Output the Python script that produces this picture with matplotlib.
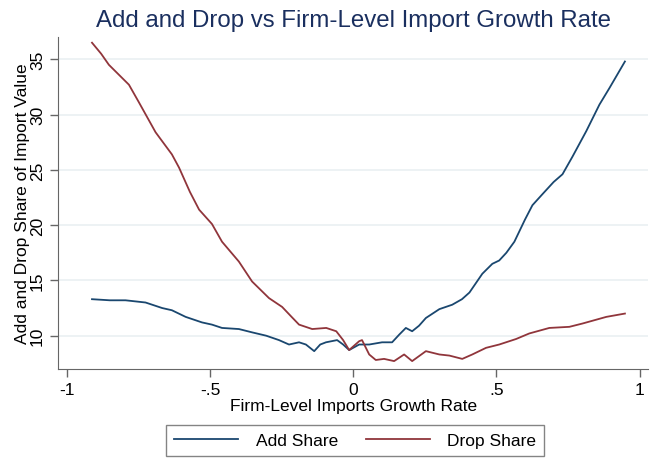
import matplotlib.pyplot as plt

plt.rcParams['font.family'] = ['Liberation Sans', 'DejaVu Sans']

# Add share (blue)
add_x = [-0.912, -0.850, -0.795, -0.725, -0.667, -0.633, -0.585, -0.528, -0.493, -0.458,
         -0.399, -0.353, -0.304, -0.259, -0.224, -0.189, -0.165, -0.136, -0.115, -0.095,
         -0.056, -0.035, -0.014, 0.021, 0.056, 0.101, 0.136, 0.161, 0.184, 0.206, 0.230, 0.254,
         0.301, 0.346, 0.380, 0.406, 0.451, 0.486, 0.510, 0.535, 0.563, 0.600, 0.626, 0.661,
         0.700, 0.731, 0.766, 0.814, 0.860, 0.895, 0.949]
add_y = [13.3, 13.2, 13.2, 13.0, 12.5, 12.3, 11.7, 11.2, 11.0, 10.7,
         10.6, 10.3, 10.0, 9.6, 9.2, 9.4, 9.2, 8.6, 9.2, 9.4,
         9.6, 9.2, 8.7, 9.2, 9.2, 9.4, 9.4, 10.1, 10.7, 10.4, 10.9, 11.6,
         12.4, 12.8, 13.3, 13.9, 15.6, 16.5, 16.8, 17.5, 18.5, 20.5, 21.8, 22.8,
         23.9, 24.6, 26.2, 28.5, 30.9, 32.4, 34.8]

# Drop share (red)
drop_x = [-0.912, -0.880, -0.853, -0.783, -0.748, -0.690, -0.633, -0.608, -0.570, -0.538, -0.493,
          -0.458, -0.399, -0.353, -0.294, -0.248, -0.215, -0.189, -0.143, -0.094, -0.059,
          -0.035, -0.014, 0.021, 0.031, 0.056, 0.079, 0.108, 0.143, 0.178, 0.206, 0.254,
          0.301, 0.336, 0.381, 0.416, 0.464, 0.510, 0.569, 0.615, 0.685, 0.755,
          0.801, 0.884, 0.949]
drop_y = [36.5, 35.5, 34.5, 32.7, 31.1, 28.4, 26.4, 25.2, 23.0, 21.4, 20.1,
          18.5, 16.7, 14.9, 13.4, 12.6, 11.7, 11.0, 10.6, 10.7, 10.4,
          9.6, 8.7, 9.5, 9.6, 8.3, 7.8, 7.9, 7.7, 8.3, 7.7, 8.6,
          8.3, 8.2, 7.9, 8.3, 8.9, 9.2, 9.7, 10.2, 10.7, 10.8,
          11.1, 11.7, 12.0]

x_ticks = [-1, -0.5, 0, 0.5, 1]
x_labels = ['-1', '-.5', '0', '.5', '1']
y_ticks = [10, 15, 20, 25, 30, 35]

fig = plt.figure(figsize=(6.54, 4.60), dpi=100)
ax = fig.add_axes([0.089, 0.196, 0.902, 0.721])

ax.plot(add_x, add_y, color='#1a476f', lw=1.3, label='Add Share')
ax.plot(drop_x, drop_y, color='#90353b', lw=1.3, label='Drop Share')

ax.set_xlim(-1.03, 1.03)
ax.set_ylim(7.0, 37.0)
ax.set_xticks(x_ticks)
ax.set_xticklabels(x_labels)
ax.set_yticks(y_ticks)
ax.set_yticklabels([str(v) for v in y_ticks], rotation=90, va='center')
ax.grid(axis='y', color='#eaf0f2', lw=1.2)
ax.set_axisbelow(True)

for s in ['top', 'right']:
    ax.spines[s].set_visible(False)
for s in ['left', 'bottom']:
    ax.spines[s].set_color('#666666')
ax.tick_params(colors='#666666', labelcolor='black', labelsize=12.5, length=6, width=1)

ax.set_xlabel('Firm-Level Imports Growth Rate', fontsize=12.5, labelpad=1)
ax.set_ylabel('Add and Drop Share of Import Value', fontsize=12.5, labelpad=0)
ax.set_title('Add and Drop vs Firm-Level Import Growth Rate', fontsize=17.3,
             color='#1a2f5f', pad=8)

leg = fig.legend(loc='center', bbox_to_anchor=(0.543, 0.041), ncol=2,
                 fontsize=12.5, frameon=True, fancybox=False, edgecolor='#666666',
                 handlelength=3.7, handletextpad=1.0, columnspacing=1.6, borderpad=0.45)
leg.get_frame().set_linewidth(1)

fig.savefig('out.png', dpi=100)
